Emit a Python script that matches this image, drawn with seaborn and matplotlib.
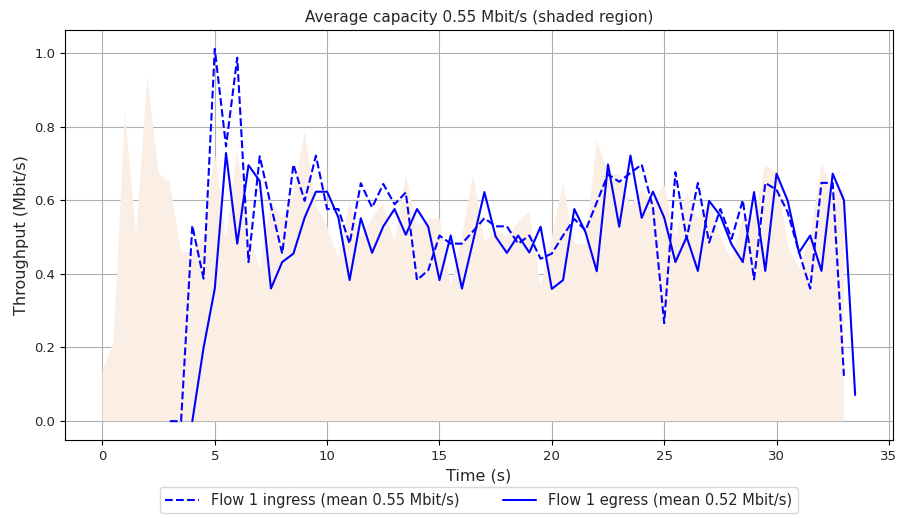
import matplotlib
matplotlib.use('Agg')
import matplotlib.pyplot as plt
import seaborn as sns
import pandas as pd
import numpy as np

# time axes (s)
cap_t = np.arange(0, 33.01, 0.5)
ing_t = np.arange(3.0, 33.01, 0.5)
egr_t = np.arange(4.0, 33.51, 0.5)

# shaded link capacity (Mbit/s)
capacity = [0.136, 0.217, 0.84, 0.508, 0.935, 0.674, 0.648, 0.459, 0.459, 0.5,
            0.73, 0.495, 0.74, 0.51, 0.415, 0.6, 0.55, 0.62, 0.787, 0.585,
            0.53, 0.44, 0.597, 0.5, 0.55, 0.594, 0.486, 0.67, 0.53, 0.55,
            0.55, 0.365, 0.5, 0.67, 0.486, 0.52, 0.5, 0.54, 0.57, 0.365,
            0.5, 0.647, 0.482, 0.482, 0.764, 0.674, 0.67, 0.585, 0.63, 0.6,
            0.643, 0.5, 0.62, 0.55, 0.6, 0.5, 0.44, 0.55, 0.55, 0.697,
            0.675, 0.477, 0.414, 0.5, 0.697, 0.63, 0.63]

ingress = [0.0, 0.0, 0.531, 0.387, 1.011, 0.746, 0.987, 0.432, 0.719, 0.585,
           0.455, 0.697, 0.598, 0.721, 0.576, 0.576, 0.482, 0.646, 0.58, 0.644,
           0.589, 0.621, 0.383, 0.41, 0.504, 0.482, 0.482, 0.516, 0.551, 0.529,
           0.529, 0.482, 0.504, 0.441, 0.455, 0.504, 0.549, 0.518, 0.594, 0.67,
           0.65, 0.674, 0.697, 0.58, 0.266, 0.676, 0.495, 0.647, 0.485, 0.576,
           0.495, 0.6, 0.385, 0.647, 0.628, 0.567, 0.459, 0.36, 0.647, 0.647,
           0.123]

egress = [0.0, 0.199, 0.36, 0.728, 0.482, 0.695, 0.652, 0.36, 0.432, 0.455,
          0.553, 0.623, 0.623, 0.553, 0.383, 0.551, 0.457, 0.529, 0.576, 0.506,
          0.576, 0.528, 0.383, 0.504, 0.36, 0.49, 0.622, 0.501, 0.457, 0.504,
          0.458, 0.528, 0.359, 0.383, 0.576, 0.513, 0.407, 0.697, 0.528, 0.721,
          0.552, 0.623, 0.553, 0.432, 0.5, 0.408, 0.598, 0.558, 0.48, 0.432,
          0.622, 0.408, 0.672, 0.598, 0.458, 0.504, 0.408, 0.672, 0.6, 0.071]

ing_df = pd.DataFrame({'t': ing_t, 'tput': ingress})
egr_df = pd.DataFrame({'t': egr_t, 'tput': egress})

sns.set_style('white')
plt.rcParams['font.family'] = ['DejaVu Sans']

fig = plt.figure(figsize=(9, 5.18), dpi=100)
ax = fig.add_axes([0.072, 0.151, 0.92, 0.791])

ax.fill_between(cap_t, 0, capacity, facecolor='#faeee5', edgecolor='none')
sns.lineplot(data=ing_df, x='t', y='tput', ax=ax, color='blue', linestyle='--',
             linewidth=1.5, label='Flow 1 ingress (mean 0.55 Mbit/s)')
sns.lineplot(data=egr_df, x='t', y='tput', ax=ax, color='blue', linestyle='-',
             linewidth=1.5, label='Flow 1 egress (mean 0.52 Mbit/s)')

ax.set_xlim(-1.675, 35.175)
ax.set_ylim(-0.0506, 1.062)
ax.set_xticks(range(0, 36, 5))
ax.set_yticks(np.arange(0, 1.01, 0.2))
ax.grid(True, color='#b0b0b0', linewidth=0.8)
ax.set_axisbelow(True)
for s in ax.spines.values():
    s.set_color('black')
    s.set_linewidth(0.8)
ax.tick_params(axis='both', which='both', direction='out', length=3.5, width=0.8,
               color='black', labelsize=9.5, bottom=True, left=True)

ax.set_xlabel('Time (s)', fontsize=11.5)
ax.set_ylabel('Throughput (Mbit/s)', fontsize=11.5)
ax.set_title('Average capacity 0.55 Mbit/s (shaded region)', fontsize=11)

ax.legend(loc='upper center', bbox_to_anchor=(0.5, -0.097), ncol=2, fontsize=10.5,
          frameon=True, fancybox=True, edgecolor='#d0d0d0', handlelength=2.3,
          columnspacing=3.0)

fig.savefig('out.png', dpi=100)
